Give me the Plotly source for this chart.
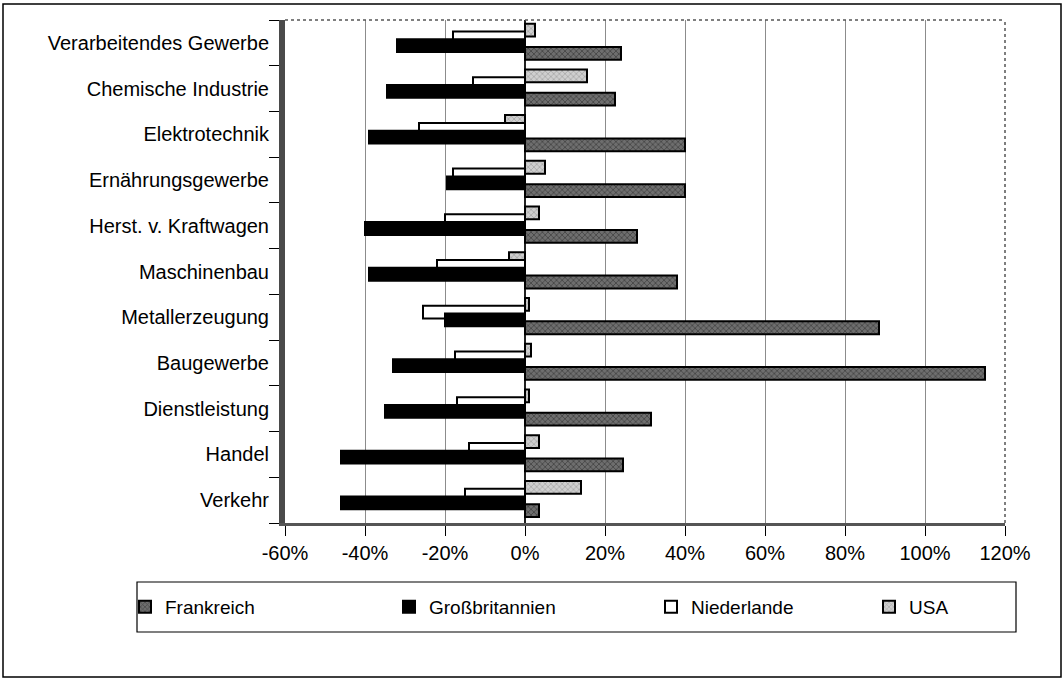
import plotly.graph_objects as go

# Categories, listed top to bottom as in the reference
categories = [
    "Verarbeitendes Gewerbe",
    "Chemische Industrie",
    "Elektrotechnik",
    "Ernährungsgewerbe",
    "Herst. v. Kraftwagen",
    "Maschinenbau",
    "Metallerzeugung",
    "Baugewerbe",
    "Dienstleistung",
    "Handel",
    "Verkehr",
]

frankreich = [24, 22.5, 40, 40, 28, 38, 88.5, 115, 31.5, 24.5, 3.5]
grossbritannien = [-32, -34.5, -39, -19.5, -40, -39, -20, -33, -35, -46, -46]
niederlande = [-18, -13, -26.5, -18, -20, -22, -25.5, -17.5, -17, -14, -15]
usa = [2.5, 15.5, -5, 5, 3.5, -4, 1, 1.5, 1, 3.5, 14]

x_tickvals = [-60, -40, -20, 0, 20, 40, 60, 80, 100, 120]
x_ticktext = ["-60%", "-40%", "-20%", "0%", "20%", "40%", "60%", "80%", "100%", "120%"]

FONT = "Liberation Sans, Arial, sans-serif"

# Plotly draws the first category at the bottom -> reverse lists
cats_r = categories[::-1]

def rev(a):
    return a[::-1]

W, H = 1064, 679
L, R, T, B = 285, 59, 20, 156
PW, PH = W - L - R, H - T - B

def px_x(p):
    return (p - L) / PW

def px_y(p):
    return (H - B - p) / PH

fig = go.Figure()

BW = 0.28
# drawn back (top bar) to front (bottom bar), like the 3D original
series = [
    ("USA", usa, dict(color="#cfcfcf",
                      pattern=dict(shape="x", fgcolor="#6a6a6a", size=4, solidity=0.3),
                      line=dict(color="black", width=2)), "legend5", 0.14),
    ("Niederlande", niederlande, dict(color="white",
                                      line=dict(color="black", width=2)), "legend4", -0.03),
    ("Großbritannien", grossbritannien, dict(color="black",
                                             line=dict(color="black", width=2)), "legend3", -0.20),
    ("Frankreich", frankreich, dict(color="#6e6e6e",
                                    pattern=dict(shape="x", fgcolor="#222222", size=4, solidity=0.4),
                                    line=dict(color="black", width=2)), "legend2", -0.37),
]

for name, vals, marker, lg, off in series:
    fig.add_trace(go.Bar(
        y=cats_r, x=rev(vals), name=name, orientation="h",
        marker=marker, legend=lg, width=BW, offset=off,
    ))

legend_common = dict(
    orientation="h", yanchor="middle", xanchor="left",
    bgcolor="rgba(0,0,0,0)", borderwidth=0,
    font=dict(family=FONT, size=19, color="black"),
    itemwidth=30,
)

fig.update_layout(
    width=W, height=H,
    margin=dict(l=L, r=R, t=T, b=B, pad=0),
    paper_bgcolor="white", plot_bgcolor="white",
    barmode="overlay",
    font=dict(family=FONT, size=20, color="black"),
    showlegend=True,
    legend2=dict(x=px_x(125), y=px_y(607), **legend_common),
    legend3=dict(x=px_x(389), y=px_y(607), **legend_common),
    legend4=dict(x=px_x(651), y=px_y(607), **legend_common),
    legend5=dict(x=px_x(869), y=px_y(607), **legend_common),
    xaxis=dict(
        range=[-60, 120], tickvals=x_tickvals, ticktext=x_ticktext,
        showgrid=True, gridcolor="#8c8c8c", gridwidth=1,
        zeroline=True, zerolinecolor="#222", zerolinewidth=1.5,
        showline=True, linecolor="#555", linewidth=3,
        ticks="outside", ticklen=10, tickcolor="black", tickwidth=1,
        tickfont=dict(family=FONT, size=20, color="black"),
        fixedrange=True,
    ),
    yaxis=dict(
        showgrid=False, zeroline=False,
        showline=True, linecolor="#4a4a4a", linewidth=6,
        ticks="outside", tickson="boundaries", ticklen=10,
        tickcolor="black", tickwidth=1,
        tickfont=dict(family=FONT, size=20, color="black"),
        ticklabelstandoff=6,
        fixedrange=True,
    ),
    shapes=[
        # dotted back frame (top and right)
        dict(type="line", xref="paper", yref="paper", x0=0, x1=1, y0=1, y1=1,
             line=dict(color="#555", width=1.5, dash="dot")),
        dict(type="line", xref="paper", yref="paper", x0=1, x1=1, y0=0, y1=1,
             line=dict(color="#555", width=1.5, dash="dot")),
        # legend frame
        dict(type="rect", xref="paper", yref="paper",
             x0=px_x(137), x1=px_x(1016), y0=px_y(632), y1=px_y(582),
             line=dict(color="black", width=1.2)),
        # outer chart frame
        dict(type="rect", xref="paper", yref="paper",
             x0=px_x(3), x1=px_x(1061), y0=px_y(677), y1=px_y(4),
             line=dict(color="black", width=1.5)),
    ],
)

fig.write_html("out.html", config={"displayModeBar": False},
               post_script="document.body.style.margin='0';")
